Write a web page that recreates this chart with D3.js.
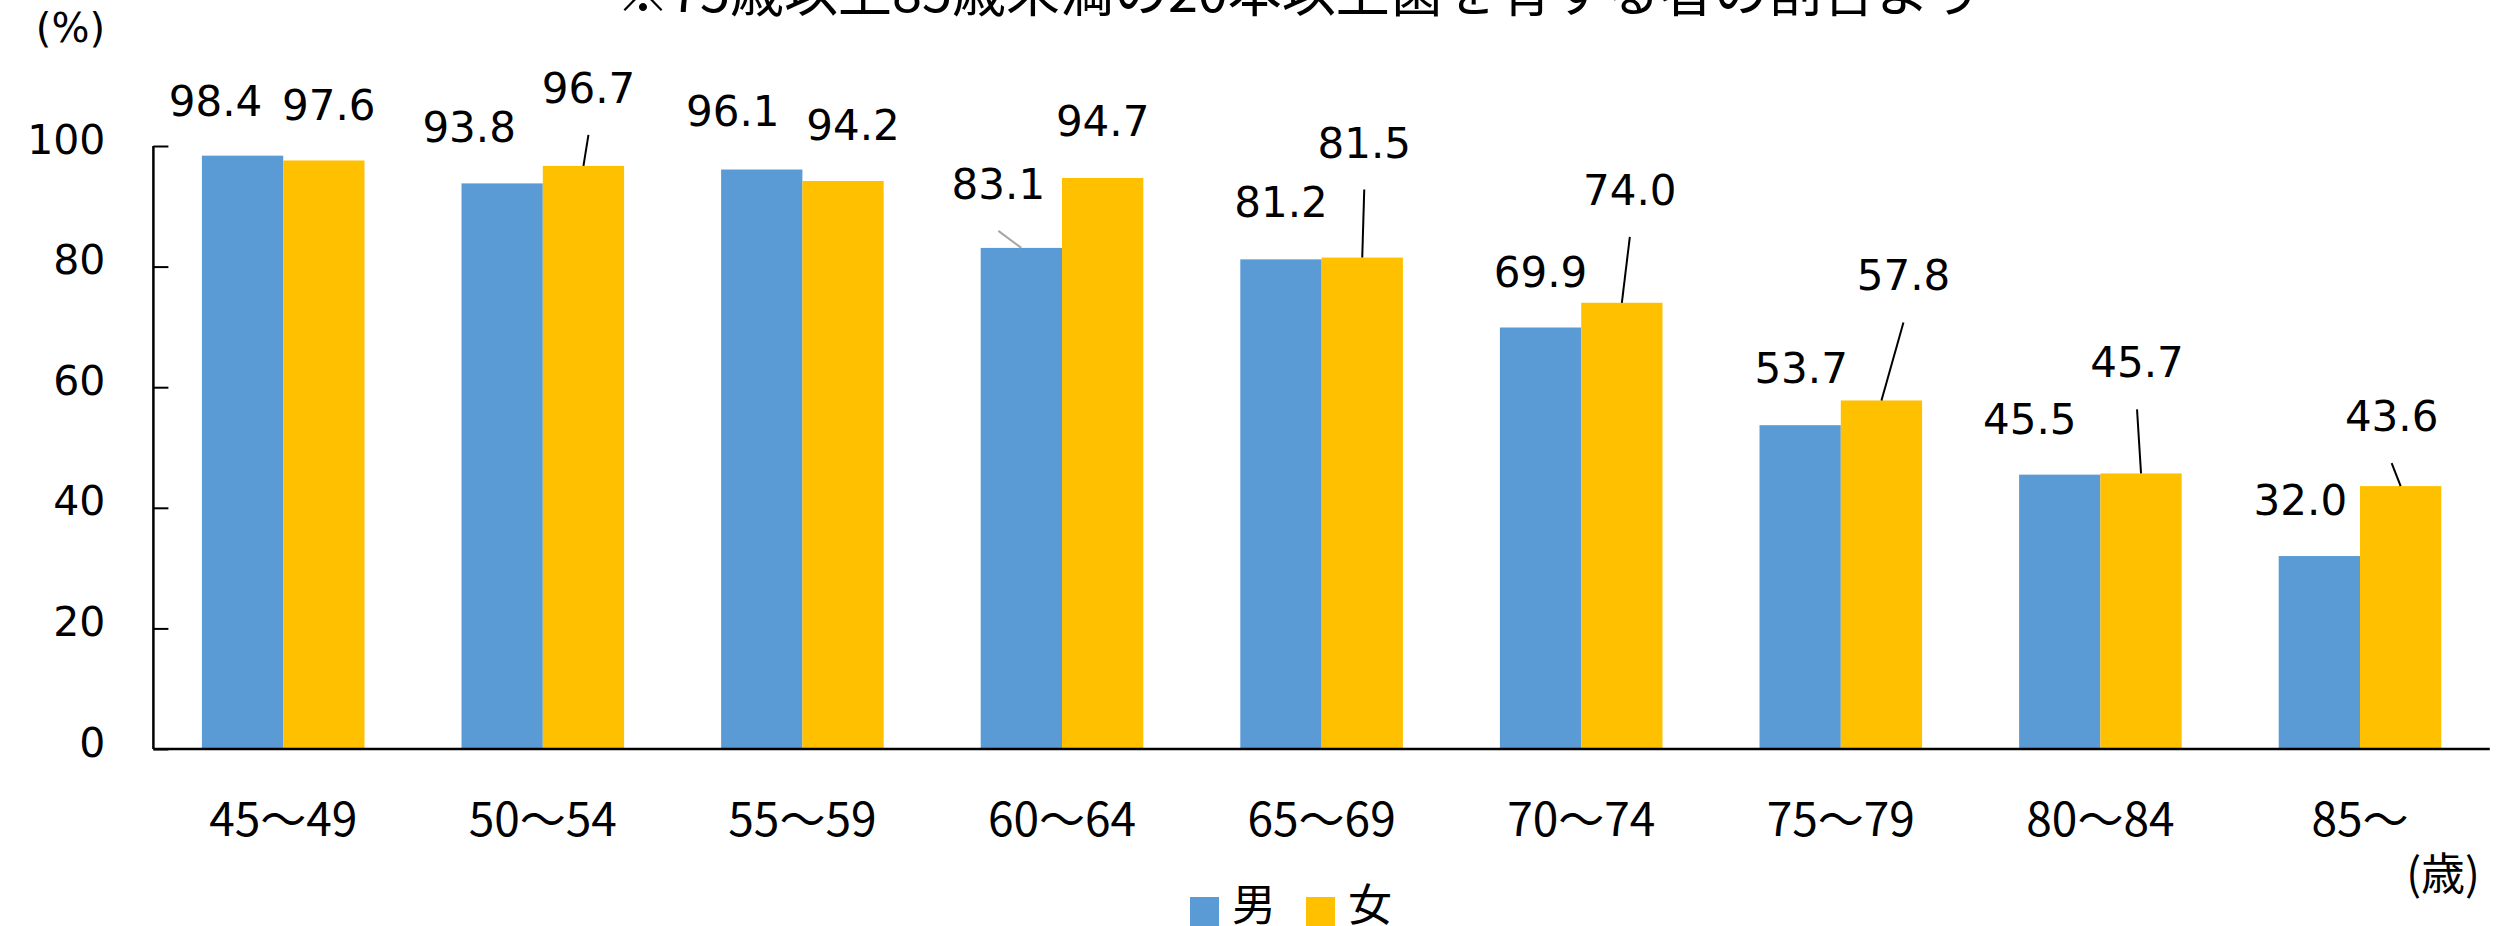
<!DOCTYPE html>
<html><head><meta charset="utf-8">
<script src="https://cdn.jsdelivr.net/npm/d3@7"></script>
<style>
html,body{margin:0;padding:0;background:#fff;}
svg{display:block;}
</style></head>
<body>
<svg id="chart" width="2503" height="926"></svg>
<script>
// ---- data ----
const categories = ["45～49","50～54","55～59","60～64","65～69","70～74","75～79","80～84","85～"];
const seriesNames = ["男","女"];
const maleValues = [98.4, 93.8, 96.1, 83.1, 81.2, 69.9, 53.7, 45.5, 32.0];
const femaleValues = [97.6, 96.7, 94.2, 94.7, 81.5, 74.0, 57.8, 45.7, 43.6];
const yTicks = [0, 20, 40, 60, 80, 100];
const titleText = "※75歳以上85歳未満の20本以上歯を有する者の割合より";
const yUnit = "(%)";
const xUnit = "(歳)";

// ---- layout (label offsets in px from bar top-center) ----
const maleLabelOffsets = [[-27,-55],[-33,-56],[-29,-59],[-23,-64],[0,-57],[0,-56],[1,-57],[-30,-56],[-19,-56]];
const femaleLabelOffsets = [[5,-55],[5,-78],[10,-56],[0,-57],[2,-115],[8,-113],[22,-125],[-4,-111],[-9,-70]];
const maleLeader = [false,false,false,true,false,false,false,false,false];
const femaleLeader = [false,true,false,false,true,true,true,true,true];

const colors = ["#5B9BD5", "#FFC000"];
const numFont = "'DejaVu Sans', Verdana, sans-serif";
const jpFont = "'Noto Sans CJK JP', sans-serif";

const svg = d3.select("#chart");
const plot = {left: 153.4, right: 2489.8, top: 146, bottom: 749};

const x0 = d3.scaleBand().domain(categories).range([plot.left, plot.right])
  .paddingInner(0.3737).paddingOuter(0.18685);
const x1 = d3.scaleBand().domain(seriesNames).range([0, x0.bandwidth()]).padding(0);
const y = d3.scaleLinear().domain([0, 100]).range([plot.bottom, plot.top]);

// title (partly cut at top)
svg.append("text").attr("x", 616).attr("y", 12)
  .attr("font-family", jpFont).attr("font-size", 54).attr("fill", "#000")
  .text(titleText);

// bars
const seriesData = [maleValues, femaleValues];
seriesData.forEach((vals, si) => {
  svg.append("g").selectAll("rect").data(vals).join("rect")
    .attr("x", (d, i) => x0(categories[i]) + x1(seriesNames[si]))
    .attr("y", d => y(d))
    .attr("width", x1.bandwidth())
    .attr("height", d => y(0) - y(d))
    .attr("fill", colors[si]);
});

// axes
const yAxis = d3.axisLeft(y).tickValues(yTicks).tickSize(-15).tickPadding(0).tickFormat(d3.format("d"));
const gy = svg.append("g").attr("transform", `translate(${plot.left},0)`).call(yAxis);
gy.select(".domain").attr("stroke", "#000").attr("stroke-width", 2.5).attr("d", `M0,${plot.top}V${plot.bottom}`);
gy.selectAll(".tick line").attr("stroke", "#000").attr("stroke-width", 2);
gy.selectAll(".tick text").attr("x", -48).attr("dy", 7).attr("dominant-baseline", "auto")
  .attr("font-family", numFont).attr("font-size", 41).attr("fill", "#000").attr("text-anchor", "end");

const xAxis = d3.axisBottom(x0).tickSize(0).tickPadding(0);
const gx = svg.append("g").attr("transform", `translate(0,${plot.bottom})`).call(xAxis);
gx.select(".domain").attr("stroke", "#000").attr("stroke-width", 2.5).attr("d", `M${plot.left},0H${plot.right}`);
gx.selectAll(".tick text").attr("y", 87).attr("dy", 0)
  .attr("font-family", jpFont).attr("font-size", 46).attr("fill", "#000");

// unit labels
svg.append("text").attr("x", 105).attr("y", 42).attr("text-anchor", "end")
  .attr("font-family", numFont).attr("font-size", 40).attr("fill", "#000").text(yUnit);
svg.append("text").attr("x", 2480).attr("y", 890).attr("text-anchor", "end")
  .attr("font-family", jpFont).attr("font-size", 44).attr("fill", "#000").text(xUnit);

// data labels + leader lines
const capHalf = 15;
[[maleValues, maleLabelOffsets, maleLeader, "#A6A6A6"], [femaleValues, femaleLabelOffsets, femaleLeader, "#000"]]
.forEach(([vals, offs, leads, lc], si) => {
  const g = svg.append("g");
  vals.forEach((v, i) => {
    const cx = x0(categories[i]) + x1(seriesNames[si]) + x1.bandwidth() / 2;
    const top = y(v);
    const lx = cx + offs[i][0];
    const ly = top + offs[i][1] + capHalf;
    if (leads[i]) {
      g.append("line").attr("x1", lx).attr("y1", ly + 32).attr("x2", cx).attr("y2", top)
        .attr("stroke", lc).attr("stroke-width", 2);
    }
    g.append("text").attr("x", lx).attr("y", ly).attr("text-anchor", "middle")
      .attr("font-family", numFont).attr("font-size", 42).attr("fill", "#000")
      .text(d3.format(".1f")(v));
  });
});

// legend
const legend = svg.append("g");
const legendX = [1190, 1306];
seriesNames.forEach((n, i) => {
  legend.append("rect").attr("x", legendX[i]).attr("y", 897).attr("width", 29).attr("height", 29).attr("fill", colors[i]);
  legend.append("text").attr("x", legendX[i] + 42).attr("y", 921)
    .attr("font-family", jpFont).attr("font-size", 44).attr("fill", "#000").text(n);
});
</script>
</body></html>
